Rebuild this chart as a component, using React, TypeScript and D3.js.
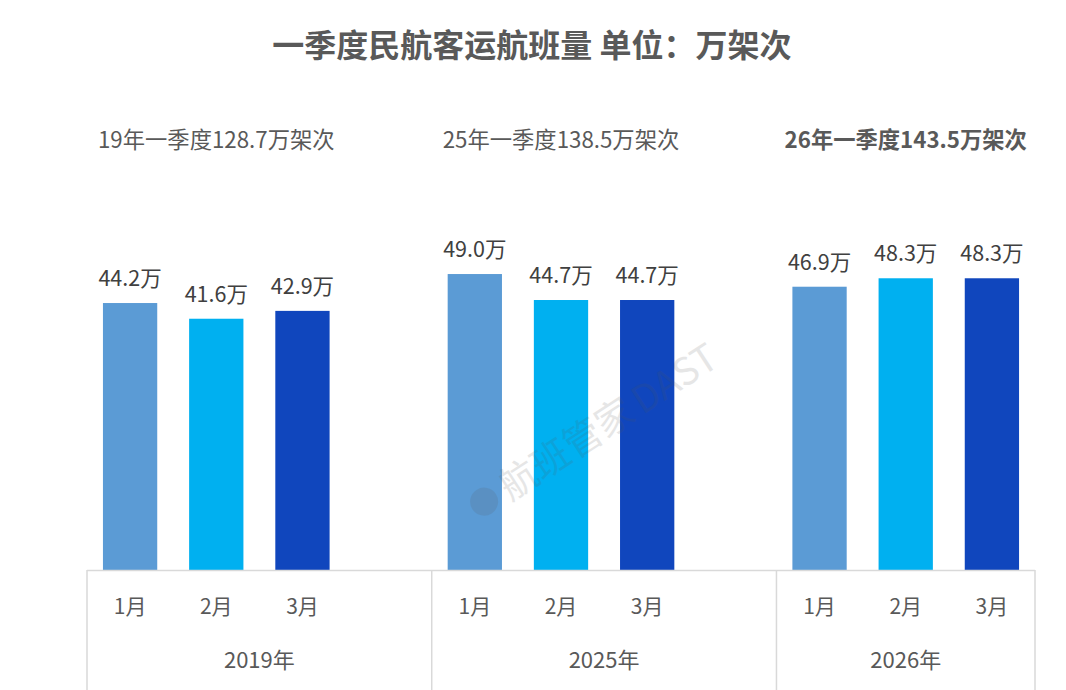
import React from 'react';
import * as d3 from 'd3';

const years = ['2019年', '2025年', '2026年'];
const months = ['1月', '2月', '3月'];
const values2019 = [44.2, 41.6, 42.9];
const values2025 = [49.0, 44.7, 44.7];
const values2026 = [46.9, 48.3, 48.3];
const seriesValues = [values2019, values2025, values2026];
const totals = ['19年一季度128.7万架次', '25年一季度138.5万架次', '26年一季度143.5万架次'];
const totalBold = [false, false, true];
const monthColors = ['#5B9BD5', '#00B0F0', '#1046BD'];
const title = '一季度民航客运航班量 单位：万架次';

const W = 1066;
const H = 690;
const FONT = '"Noto Sans CJK SC", "Microsoft YaHei", sans-serif';

export default function App() {
  const left = 87;
  const right = 1035;
  const baseY = 570;

  const slots: string[] = [];
  years.forEach((y, i) => {
    months.forEach((m) => slots.push(`${y}|${m}`));
    if (i < years.length - 1) slots.push(`${y}|gap`);
  });

  const x = d3.scaleBand<string>().domain(slots).range([left, right]).paddingInner(0).paddingOuter(0);
  const y = d3.scaleLinear().domain([0, 60]).range([baseY, baseY - 6.04 * 60]);
  const bw = x.bandwidth() * 0.63;
  const fmt = d3.format('.1f');

  const groupEdges = years.map((yr, i) => {
    const first = x(`${yr}|${months[0]}`)!;
    const last = i < years.length - 1 ? x(`${yr}|gap`)! + x.bandwidth() : right;
    return [first, last];
  });

  return (
    <svg width={W} height={H} style={{ position: 'absolute', left: 0, top: 0 }} fontFamily={FONT}>
      <rect x={0} y={0} width={W} height={H} fill="#ffffff" />
      <text x={532} y={57} textAnchor="middle" fontSize={32} fontWeight="bold" fill="#595959">
        {title}
      </text>

      {years.map((yr, i) => (
        <g key={yr}>
          <text
            x={x(`${yr}|${months[1]}`)! + x.bandwidth() / 2}
            y={148}
            textAnchor="middle"
            fontSize={22.3}
            fontWeight={totalBold[i] ? 'bold' : 'normal'}
            fill="#595959"
          >
            {totals[i]}
          </text>
          {months.map((m, j) => {
            const v = seriesValues[i][j];
            const cx = x(`${yr}|${m}`)! + x.bandwidth() / 2;
            return (
              <g key={m}>
                <rect x={cx - bw / 2} y={y(v)} width={bw} height={baseY - y(v)} fill={monthColors[j]} />
                <text x={cx} y={y(v) - 17} textAnchor="middle" fontSize={21.5} fill="#404040">
                  {fmt(v) + '万'}
                </text>
                <text x={cx} y={614} textAnchor="middle" fontSize={21} fill="#595959">
                  {m}
                </text>
              </g>
            );
          })}
          <text
            x={(groupEdges[i][0] + groupEdges[i][1]) / 2}
            y={668}
            textAnchor="middle"
            fontSize={22}
            fill="#595959"
          >
            {yr}
          </text>
        </g>
      ))}

      {/* watermark */}
      <g transform="translate(598,442) rotate(-33)" opacity={0.14} fill="#555555">
        <circle cx={-128} cy={-12} r={14} />
        <text x={-106} y={2} fontSize={38} fontFamily={FONT}>航班管家</text>
        <text x={52} y={2} fontSize={38} fontFamily={FONT}>DAST</text>
      </g>

      <line x1={left} x2={right} y1={baseY + 0.5} y2={baseY + 0.5} stroke="#d9d9d9" strokeWidth={1.5} />
      {[groupEdges[0][0], ...groupEdges.map((g) => g[1])].map((ex, k) => (
        <line key={k} x1={ex} x2={ex} y1={baseY} y2={H} stroke="#d9d9d9" strokeWidth={1.5} />
      ))}
    </svg>
  );
}
